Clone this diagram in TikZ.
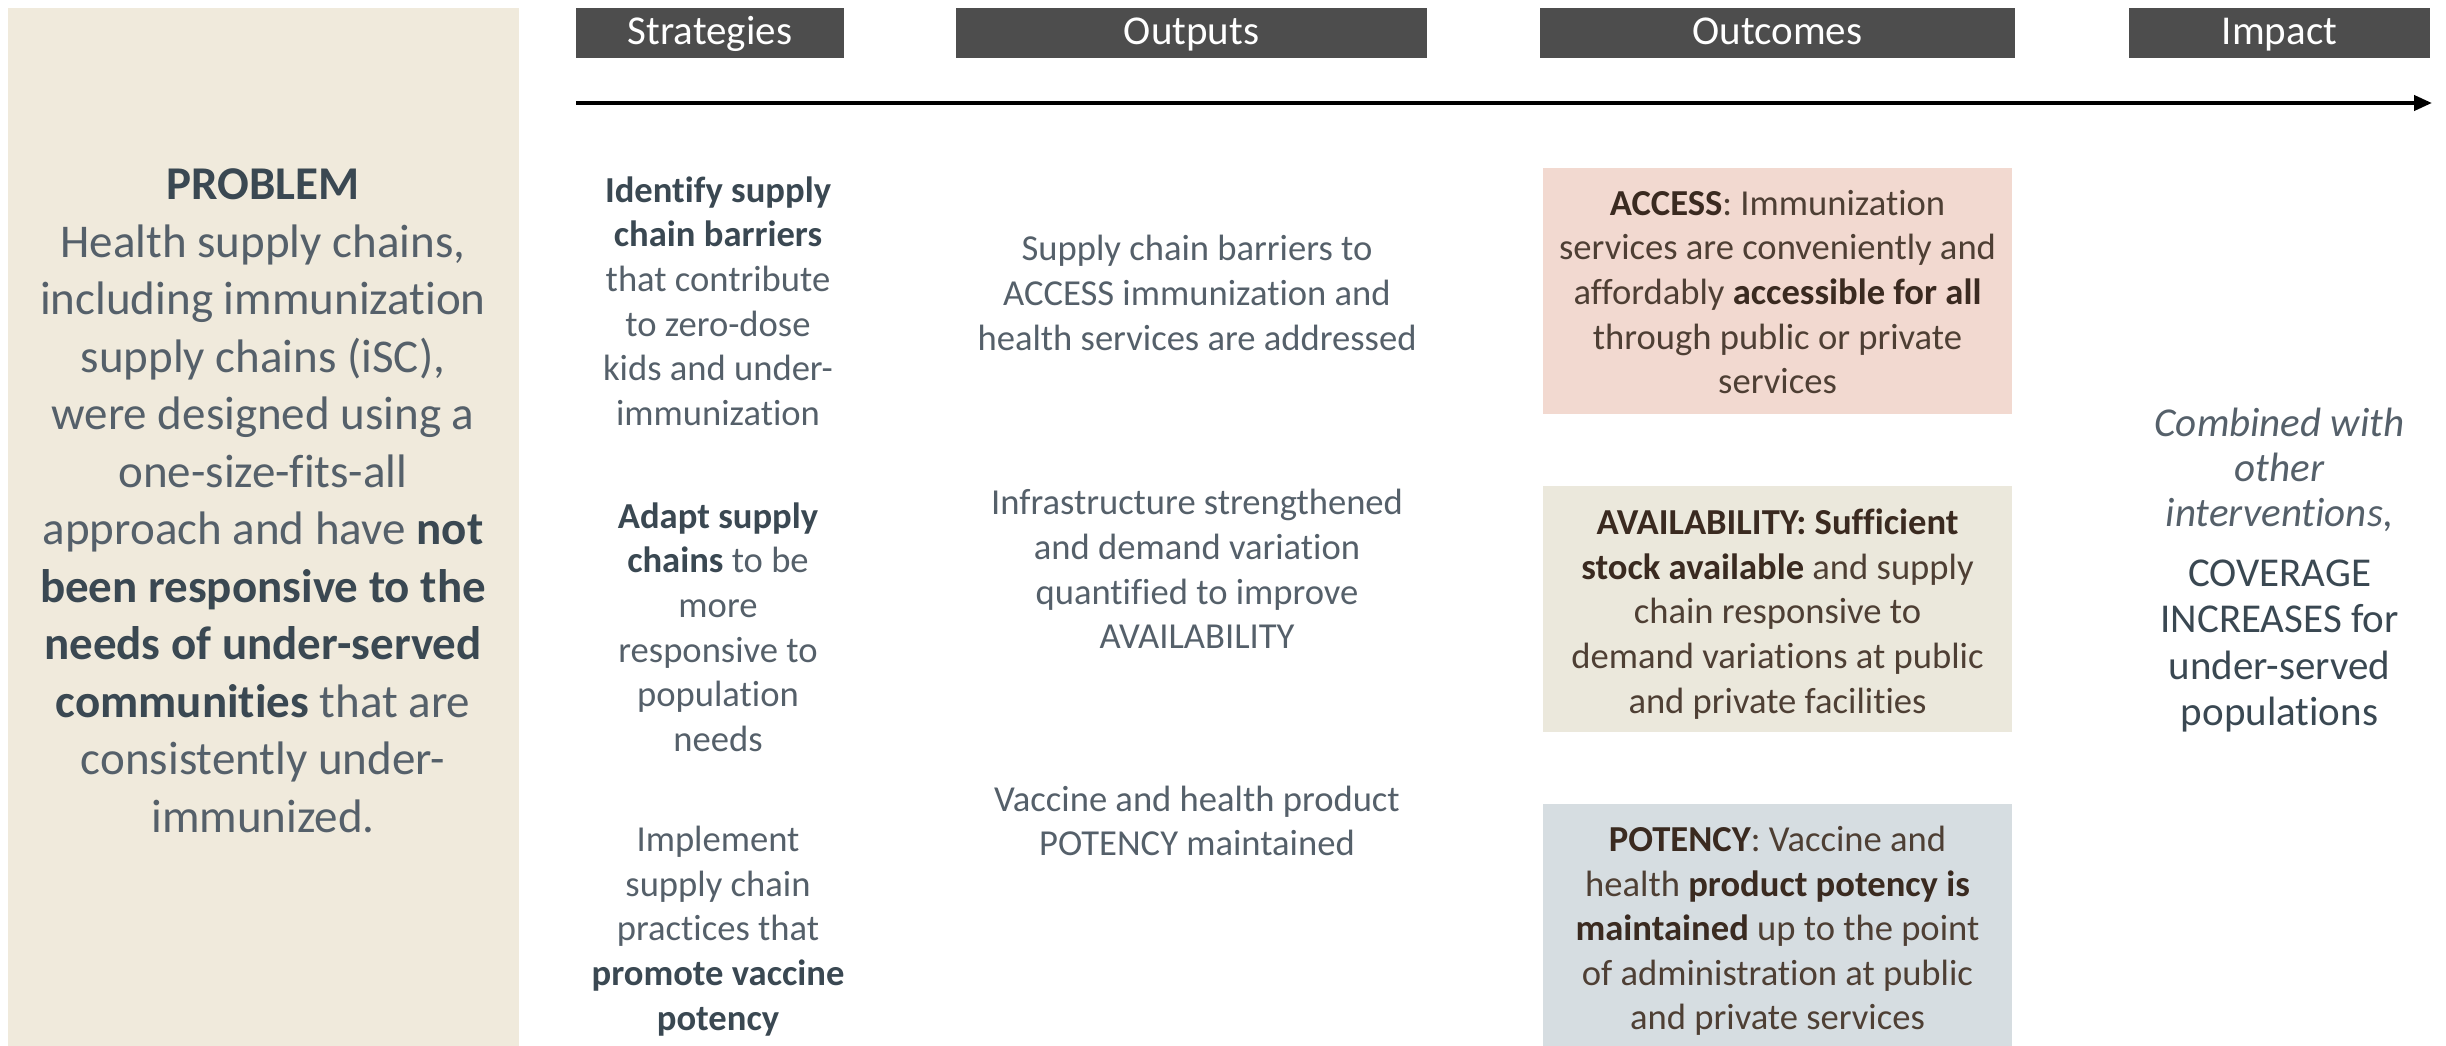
\documentclass[tikz,border=0pt]{standalone}
\usepackage{fontspec}
\setmainfont[RawFeature={-liga;-clig;-dlig;-calt}]{Carlito}
\usetikzlibrary{arrows.meta}
\definecolor{panelc}{HTML}{F0EADC}
\definecolor{headc}{HTML}{4D4D4D}
\definecolor{accessc}{HTML}{F2D9D0}
\definecolor{availc}{HTML}{EBE8DC}
\definecolor{potc}{HTML}{D6DDE1}
\definecolor{bodyc}{HTML}{55606A}
\definecolor{darkc}{HTML}{3A4852}
\definecolor{brownc}{HTML}{4E3F34}
\definecolor{browndk}{HTML}{3A2A20}
\newcommand{\hl}[1]{{\bfseries\color{darkc}#1}}
\newcommand{\hb}[1]{{\bfseries\color{browndk}#1}}
\begin{document}
\begin{tikzpicture}[x=1pt,y=-1pt,
  header/.style={fill=headc, text=white, inner sep=0pt, minimum height=50pt,
    text height=30pt, text depth=6pt,
    font=\fontsize{41}{46}\selectfont},
  coltext/.style={align=center, inner sep=0pt, text=bodyc,
    font=\fontsize{36.6}{44.6}\selectfont},
  outbox/.style={inner sep=0pt, minimum width=469pt},
  outtext/.style={align=center, inner sep=0pt, text=brownc,
    font=\fontsize{36.6}{44.6}\selectfont},
  probtext/.style={align=center, inner sep=0pt, text=bodyc,
    font=\fontsize{47}{57.5}\selectfont},
  flowarrow/.style={line width=4pt, -{Triangle[length=18pt, width=15pt]}}
]
\useasboundingbox[fill=white] (0,0) rectangle (2446,1046);

% problem panel
\node[fill=panelc, inner sep=0pt, minimum width=511pt, minimum height=1038pt] (panel) at (263.5,527) {};
\node[probtext] (problem) at (263,501) {\hl{PROBLEM}\\
Health supply chains,\\
including immunization\\
supply chains (iSC),\\
were designed using a\\
one-size-fits-all\\
approach and have \hl{not}\\
\hl{been responsive to the}\\
\hl{needs of under-served}\\
\hl{communities} that are\\
consistently under-\\
immunized.};

% headers
\node[header, minimum width=268pt] (hstrat) at (710,33) {Strategies};
\node[header, minimum width=471pt] (hout) at (1191.5,33) {Outputs};
\node[header, minimum width=475pt] (houtc) at (1777.5,33) {Outcomes};
\node[header, minimum width=301pt] (himp) at (2279.5,33) {Impact};

% arrow
\coordinate (arrS) at (576,103);
\coordinate (arrE) at (2432,103);
\draw[flowarrow] (arrS) -- (arrE);

% strategies
\node[coltext] (s1) at (718,301) {\hl{Identify supply}\\ \hl{chain barriers}\\ that contribute\\ to zero-dose\\ kids and under-\\ immunization};
\node[coltext] (s2) at (718,627) {\hl{Adapt supply}\\ \hl{chains} to be\\ more\\ responsive to\\ population\\ needs};
\node[coltext] (s3) at (718,931) {Implement\\ supply chain\\ practices that\\ \hl{promote vaccine}\\ \hl{potency}};

% outputs
\node[coltext] (o1) at (1197,293) {Supply chain barriers to\\ ACCESS immunization and\\ health services are addressed};
\node[coltext] (o2) at (1197,569) {Infrastructure strengthened\\ and demand variation\\ quantified to improve\\ AVAILABILITY};
\node[coltext] (o3) at (1197,821) {Vaccine and health product\\ POTENCY maintained};

% outcomes
\node[outbox, fill=accessc, minimum height=246pt] (c1) at (1777.5,291) {};
\node[outbox, fill=availc, minimum height=246pt] (c2) at (1777.5,609) {};
\node[outbox, fill=potc, minimum height=242pt] (c3) at (1777.5,925) {};
\node[outtext] (c1t) at (1777.5,292) {\hb{ACCESS}: Immunization\\ services are conveniently and\\ affordably \hb{accessible for all}\\ through public or private\\ services};
\node[outtext] (c2t) at (1777.5,614) {\hb{AVAILABILITY: Sufficient}\\ \hb{stock available} and supply\\ chain responsive to\\ demand variations at public\\ and private facilities};
\node[outtext] (c3t) at (1777.5,931) {\hb{POTENCY}: Vaccine and\\ health \hb{product potency is}\\ \hb{maintained} up to the point\\ of administration at public\\ and private services};

% impact
\node[align=center, inner sep=0pt, text=bodyc, font=\fontsize{41}{45.3}\selectfont\itshape] (i1) at (2279.5,470) {Combined with\\ other\\ interventions,};
\node[align=center, inner sep=0pt, text=darkc, font=\fontsize{41}{46.3}\selectfont] (i2) at (2279.5,646) {COVERAGE\\ INCREASES for\\ under-served\\ populations};
\end{tikzpicture}
\end{document}
